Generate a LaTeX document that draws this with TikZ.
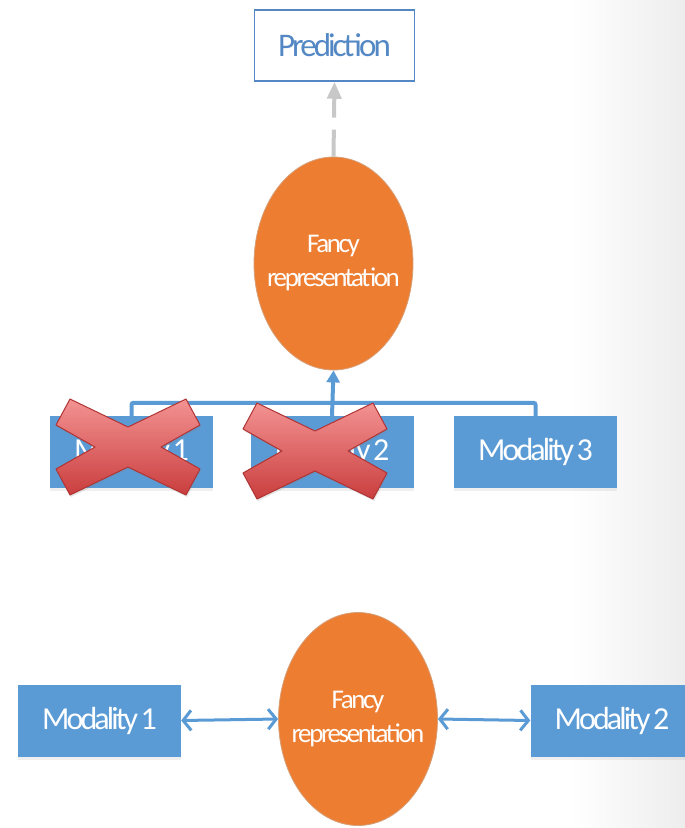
\documentclass[tikz,border=0pt]{standalone}
\usepackage{fontspec}
\setmainfont{Carlito}
\newfontfamily\narrowfont[LetterSpace=-9,WordSpace=0.6]{Carlito}
\usetikzlibrary{shapes.geometric,arrows.meta,shadows}

\definecolor{boxblue}{RGB}{91,155,213}
\definecolor{predblue}{RGB}{84,136,196}
\definecolor{fancyorange}{RGB}{237,125,49}
\definecolor{ellipseedge}{RGB}{214,160,122}
\definecolor{dashgray}{RGB}{200,200,200}
\definecolor{crosstop}{RGB}{243,146,146}
\definecolor{crossbottom}{RGB}{202,62,62}
\definecolor{crossedge}{RGB}{176,52,52}

\tikzset{
  modbox/.style={rectangle, fill=boxblue, minimum width=163pt, minimum height=72pt,
    inner sep=0pt, text=white, font=\narrowfont\fontsize{32}{38}\selectfont,
    drop shadow={opacity=0.12, shadow xshift=0pt, shadow yshift=-3pt}},
  fancy/.style={ellipse, fill=fancyorange, draw=ellipseedge, line width=0.8pt,
    minimum width=159pt, minimum height=213pt, inner sep=0pt},
  fancytext/.style={text=white, align=center, inner sep=0pt,
    font=\narrowfont\fontsize{27}{34}\selectfont},
  predbox/.style={rectangle, draw=predblue, line width=1.5pt, fill=white,
    minimum width=160pt, minimum height=71pt, inner sep=0pt, text=predblue,
    font=\narrowfont\fontsize{33}{38}\selectfont},
  bluelink/.style={draw=boxblue, line width=4pt},
  bothways/.style={draw=boxblue, line width=3pt,
    {Straight Barb[length=8pt,width=20pt]}-{Straight Barb[length=8pt,width=20pt]}},
  crossfill/.style={top color=crosstop, bottom color=crossbottom, draw=crossedge,
    line width=1pt, line join=round,
    drop shadow={opacity=0.2, shadow xshift=1pt, shadow yshift=-2pt}},
  redcross/.pic={
    \path[crossfill] (-58,-48) -- (0,-20) -- (58,-48) -- (72,-22) -- (33,0)
      -- (72,22) -- (58,48) -- (0,20) -- (-58,48) -- (-72,22) -- (-33,0)
      -- (-72,-22) -- cycle;
  }
}

\begin{document}
\begin{tikzpicture}[x=1pt, y=-1pt]
  % page and the faint grey fade on the right edge
  \useasboundingbox (0,0) rectangle (685,828);
  \clip (0,0) rectangle (685,828);
  \fill[white] (0,0) rectangle (685,828);
  \fill[left color=white, right color=black!7] (570,0) rectangle (685,828);

  % upper diagram
  \node[predbox] (pred) at (334.5,45.5) {Prediction};
  \node[fancy, label={[fancytext]center:Fancy\\representation}] (rep) at (333.5,263.5) {};
  \node[modbox] (ma) at (131.5,452) {Modality 1};
  \node[modbox] (mb) at (332,452) {Modality 2};
  \node[modbox] (mc) at (535.5,452) {Modality 3};

  \draw[dashgray, line width=4pt, dash pattern=on 27pt off 12pt,
    -{Triangle[length=17pt,width=14pt]}] (rep.north) -- (pred.south);

  \draw[bluelink, rounded corners=2pt] (ma.north) -- ++(0,-13) -| (mc.north);
  \draw[bluelink, -{Triangle[length=12pt,width=13pt]}] (mb.north) -- (rep.south);

  \pic at (128,447) {redcross};
  \pic at (315,451) {redcross};

  % lower diagram
  \node[modbox] (la) at (99.5,720.5) {Modality 1};
  \node[fancy, label={[fancytext]center:Fancy\\representation}] (lrep) at (358,719) {};
  \node[modbox] (lb) at (612,720.5) {Modality 2};

  \draw[bothways] (la.east) -- (lrep.west);
  \draw[bothways] (lrep.east) -- (lb.west);
\end{tikzpicture}
\end{document}
